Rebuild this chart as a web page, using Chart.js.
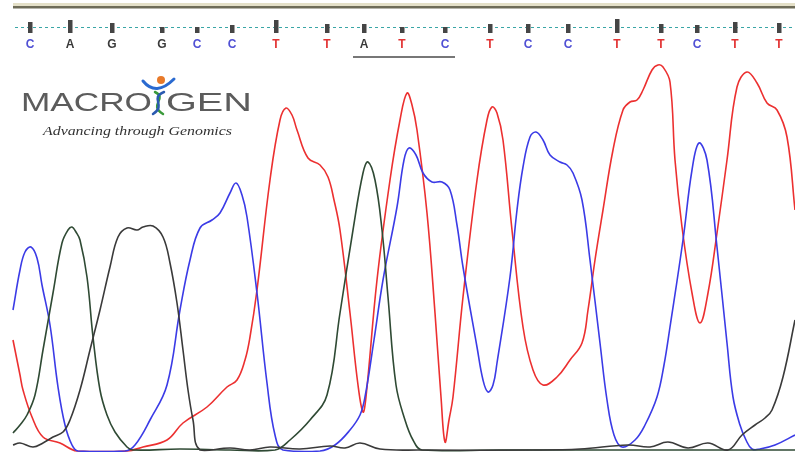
<!DOCTYPE html>
<html>
<head>
<meta charset="utf-8">
<script src="https://cdn.jsdelivr.net/npm/chart.js@4.4.1/dist/chart.umd.min.js"></script>
<style>
  body { margin: 0; background: #fff; }
  #wrap { width: 795px; height: 454px; }
</style>
</head>
<body>
<div id="wrap"><canvas id="trace" width="795" height="454"></canvas></div>
<script>
// base calls along the top of the trace
let bases = ['C','A','G','G','C','C','T','T','A','T','C','T','C','C','T','T','C','T','T'];
let basePos = [30, 70, 112, 162, 197, 232, 276, 327, 364, 402, 445, 490, 528, 568, 617, 661, 697, 735, 779];
let baseQual = [11, 13, 10, 6, 6, 8, 13, 9, 9, 6, 6, 9, 9, 9, 14, 9, 8, 11, 10];
let underlined = [8, 10]; // A T C

// C channel (blue)
let scanC = [13,20,25,31,37,42,50,58,65,72,78,125,135,150,167,180,190,200,212,220,230,236,242,247,257,267,275,283,320,335,350,360,365,374,383,397,404,409,416,423,432,442,450,457,463,477,483,488,493,497,510,517,523,530,536,543,550,560,567,573,582,590,600,607,614,622,635,645,657,664,670,683,692,699,707,717,727,733,740,746,752,760,775,795];
let sigC = [142,182,200,205,194,167,127,65,27,7,1,1,7,32,67,142,192,224,232,239,259,269,257,235,159,69,17,2,1,7,22,37,55,112,172,245,292,304,297,279,270,270,262,227,185,105,72,60,67,89,175,242,285,315,320,312,297,290,287,279,252,192,109,52,17,5,12,27,55,87,125,212,282,309,292,205,109,55,27,12,3,3,7,17];

// T channel (red)
let scanT = [13,20,23,32,43,60,77,127,143,167,183,207,227,237,245,250,257,270,280,286,292,297,308,320,328,334,340,350,358,363,366,377,390,400,407,412,417,427,435,441,445,449,453,463,477,487,492,497,503,512,523,533,543,557,570,582,588,595,603,613,623,630,637,643,652,658,663,670,675,682,692,700,708,717,727,737,747,757,767,777,787,795];
let sigT = [112,77,62,35,15,9,1,1,5,12,29,45,65,72,92,115,162,272,332,344,337,322,294,287,275,252,222,139,67,40,55,172,272,332,359,347,322,239,139,55,10,32,55,155,272,332,345,339,312,222,125,82,67,75,92,109,142,192,242,302,342,350,352,362,382,387,385,370,292,225,159,129,159,219,292,365,380,369,349,342,315,242];

// A channel (dark green)
let scanA = [13,20,27,35,43,53,62,68,72,76,80,87,93,100,107,115,127,133,180,230,275,290,310,327,340,353,363,368,375,382,388,396,405,413,422,500,600,700,795];
let sigA = [19,27,37,57,102,159,209,222,225,220,212,175,115,62,37,20,5,2,3,2,2,12,32,57,139,222,279,290,272,222,155,67,32,12,2,2,2,2,2];

// G channel (black)
let scanG = [13,20,33,43,53,63,70,80,90,100,110,118,127,137,143,153,163,170,177,183,188,193,200,230,250,270,300,330,345,360,380,420,535,580,628,650,668,688,708,728,742,755,765,772,783,795];
let sigG = [7,9,5,9,15,20,32,62,102,142,185,215,224,222,225,226,215,189,149,102,62,32,2,4,2,5,3,6,4,9,3,2,2,3,7,5,10,4,9,2,17,27,34,42,75,132];

let baseColors = { A: '#3a3a3a', C: '#5050d4', G: '#3a3a3a', T: '#e23434' };

function toPoints(xs, ys) {
    return xs.map((x, i) => ({ x: x, y: ys[i] }));
}

function fitText(ctx, text, x, y, width) {
    let w = ctx.measureText(text).width;
    ctx.save();
    ctx.translate(x, y);
    ctx.scale(width / w, 1);
    ctx.fillText(text, 0, 0);
    ctx.restore();
}

let headerPlugin = {
    id: 'header',
    afterDraw(chart) {
        let ctx = chart.ctx;
        let xs = chart.scales.x;
        ctx.save();

        // top rule
        ctx.fillStyle = '#e4e0c8';
        ctx.fillRect(13, 3, 782, 3);
        ctx.fillStyle = '#6e6c58';
        ctx.fillRect(13, 6, 782, 2.5);

        // dashed guide
        ctx.strokeStyle = '#3aa6a6';
        ctx.lineWidth = 1;
        ctx.setLineDash([3, 3]);
        ctx.beginPath();
        ctx.moveTo(15, 27.5);
        ctx.lineTo(795, 27.5);
        ctx.stroke();
        ctx.setLineDash([]);

        // ticks + letters
        ctx.font = 'bold 12px "Liberation Sans", Arial, sans-serif';
        ctx.textAlign = 'center';
        ctx.textBaseline = 'middle';
        bases.forEach((b, i) => {
            let px = Math.round(xs.getPixelForValue(basePos[i]));
            ctx.fillStyle = '#454545';
            ctx.fillRect(px - 2, 33 - baseQual[i], 4.5, baseQual[i]);
            ctx.fillStyle = baseColors[b];
            ctx.fillText(b, px, 45);
        });

        // selection underline
        let u0 = xs.getPixelForValue(basePos[underlined[0]]) - 11;
        let u1 = xs.getPixelForValue(basePos[underlined[1]]) + 10;
        ctx.strokeStyle = '#4a4a4a';
        ctx.lineWidth = 1.5;
        ctx.beginPath();
        ctx.moveTo(u0, 57);
        ctx.lineTo(u1, 57);
        ctx.stroke();

        // logo
        ctx.textAlign = 'left';
        ctx.textBaseline = 'alphabetic';
        ctx.fillStyle = '#5c5c5c';
        ctx.font = '25px "Liberation Sans", Arial, sans-serif';
        fitText(ctx, 'MACRO', 21, 111, 131);
        fitText(ctx, 'GEN', 166, 111, 86);

        // little figure between MACRO and GEN
        ctx.lineCap = 'round';
        ctx.strokeStyle = '#2a6ad0';
        ctx.lineWidth = 3;
        ctx.beginPath();
        ctx.moveTo(143, 81);
        ctx.quadraticCurveTo(156, 97, 174, 79);
        ctx.stroke();
        ctx.strokeStyle = '#3a9a3a';
        ctx.lineWidth = 2.5;
        ctx.beginPath();
        ctx.moveTo(155, 92);
        ctx.bezierCurveTo(168, 98, 148, 105, 163, 114);
        ctx.stroke();
        ctx.strokeStyle = '#2a5ab0';
        ctx.beginPath();
        ctx.moveTo(164, 92);
        ctx.bezierCurveTo(149, 98, 167, 105, 153, 114);
        ctx.stroke();
        ctx.fillStyle = '#e87a2a';
        ctx.beginPath();
        ctx.arc(161, 80, 4, 0, Math.PI * 2);
        ctx.fill();

        ctx.fillStyle = '#333';
        ctx.font = 'italic 13px "Liberation Serif", "Times New Roman", serif';
        fitText(ctx, 'Advancing through Genomics', 43, 135, 189);

        ctx.restore();
    }
};

let ctx = document.getElementById('trace').getContext('2d');

let traceChart = new Chart(ctx, {
    type: 'line',
    data: {
        datasets: [
            { label: 'G', data: toPoints(scanG, sigG), borderColor: '#3a3a3a' },
            { label: 'A', data: toPoints(scanA, sigA), borderColor: '#2f4a34' },
            { label: 'C', data: toPoints(scanC, sigC), borderColor: '#3b3be6' },
            { label: 'T', data: toPoints(scanT, sigT), borderColor: '#ec3030' }
        ]
    },
    options: {
        responsive: false,
        animation: false,
        datasets: {
            line: {
                borderWidth: 1.6,
                pointRadius: 0,
                tension: 0.4,
                fill: false
            }
        },
        layout: { padding: { top: 0, bottom: 2, left: 0, right: 0 } },
        scales: {
            x: { type: 'linear', min: 0, max: 795, display: false },
            y: { min: 0, max: 452, display: false }
        },
        plugins: {
            legend: { display: false },
            tooltip: { enabled: false }
        }
    },
    plugins: [headerPlugin]
});
</script>
</body>
</html>
